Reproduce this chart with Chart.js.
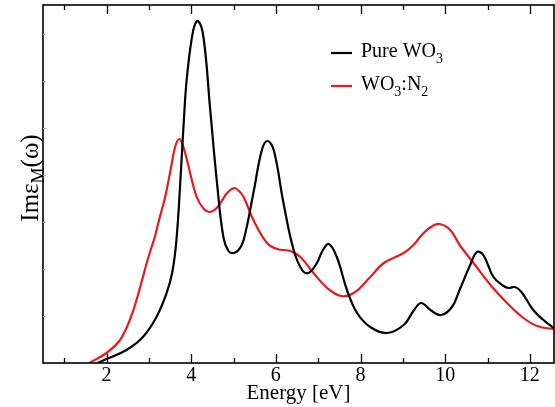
<!DOCTYPE html>
<html>
<head>
<meta charset="utf-8">
<script src="https://cdn.jsdelivr.net/npm/chart.js@4/dist/chart.umd.min.js"></script>
<style>
  html, body { margin: 0; padding: 0; background: #fff; }
  #wrap { width: 555px; height: 407px; position: relative; }
</style>
</head>
<body>
<div id="wrap"><canvas id="c" width="555" height="407"></canvas></div>
<script>
// ---- Data ----
const energyPure = [1.79, 2.0, 2.47, 2.86, 3.18, 3.42, 3.55, 3.65, 3.75, 3.83, 3.90, 4.05, 4.16, 4.29, 4.45, 4.61, 4.76, 4.88, 5.0, 5.12, 5.24, 5.47, 5.67, 5.80, 5.95, 6.18, 6.42, 6.62, 6.77, 6.97, 7.10, 7.25, 7.44, 7.68, 7.92, 8.23, 8.63, 9.02, 9.25, 9.43, 9.65, 9.90, 10.16, 10.34, 10.59, 10.75, 10.90, 11.14, 11.38, 11.50, 11.65, 11.80, 12.08, 12.32, 12.56, 12.70];
const imPure = [0, 4, 13, 26, 46, 70, 90, 122, 186, 245, 286, 333, 342, 326, 253, 180, 126, 112, 110, 113, 123, 170, 213, 222, 213, 160, 113, 93, 90, 100, 112, 119, 106, 73, 50, 36, 30, 38, 52, 60, 53, 48, 56, 73, 98, 111, 108, 86, 77, 75, 76, 71, 53, 43, 35, 29];

const energyN2 = [1.59, 2.0, 2.32, 2.55, 2.71, 2.86, 2.95, 3.02, 3.14, 3.26, 3.38, 3.50, 3.62, 3.72, 3.80, 3.90, 4.13, 4.30, 4.43, 4.55, 4.69, 4.85, 5.02, 5.13, 5.24, 5.47, 5.79, 6.03, 6.34, 6.58, 6.89, 7.21, 7.54, 7.84, 8.23, 8.55, 9.02, 9.25, 9.49, 9.70, 9.87, 10.12, 10.34, 10.67, 11.07, 11.46, 11.85, 12.17, 12.56, 12.70];
const imN2 = [0, 10, 23, 43, 63, 86, 100, 110, 126, 146, 165, 190, 216, 224, 218, 203, 166, 154, 151, 153, 160, 170, 175, 172, 166, 143, 120, 114, 112, 106, 90, 75, 67, 70, 86, 100, 110, 118, 130, 137, 139, 133, 118, 100, 78, 60, 45, 37, 34, 34];

const xTickLabels = [2, 4, 6, 8, 10, 12];
const xMinorTicks = [1, 3, 5, 7, 9, 11];
const yTicks = [47, 94, 141, 188, 235, 282, 329];

const seriesNames = ['Pure WO', 'WO'];
const colPure = '#000000';
const colN2 = '#e8191f';
const SERIF = '"Liberation Serif", "DejaVu Serif", serif';

function pts(xs, ys) { return xs.map((x, i) => ({ x: x, y: ys[i] })); }

const framePlugin = {
  id: 'framePlugin',
  afterDatasetsDraw(chart) {
    const { ctx, chartArea: a, scales } = chart;
    const xs = scales.x, ys = scales.y;
    ctx.save();
    // frame
    ctx.strokeStyle = '#000';
    ctx.lineWidth = 1.6;
    ctx.strokeRect(a.left, a.top, a.right - a.left, a.bottom - a.top);
    // x ticks (inward, bottom and top)
    ctx.lineWidth = 1.3;
    const drawX = (v, len) => {
      const px = Math.round(xs.getPixelForValue(v)) + 0.5;
      ctx.beginPath();
      ctx.moveTo(px, a.bottom); ctx.lineTo(px, a.bottom - len);
      ctx.moveTo(px, a.top); ctx.lineTo(px, a.top + len);
      ctx.stroke();
    };
    xTickLabels.forEach(v => drawX(v, 9));
    xMinorTicks.forEach(v => drawX(v, 5));
    // faint y ticks
    ctx.strokeStyle = '#b0b0b0';
    ctx.lineWidth = 1;
    yTicks.forEach(v => {
      const py = Math.round(ys.getPixelForValue(v)) + 0.5;
      ctx.beginPath(); ctx.moveTo(a.left, py); ctx.lineTo(a.left + 3, py); ctx.stroke();
    });
    ctx.restore();

    // y-axis title with subscript
    ctx.save();
    ctx.fillStyle = '#000';
    ctx.textBaseline = 'alphabetic';
    const big = '25px ' + SERIF, small = '18px ' + SERIF;
    const parts = [['Im\u03b5', big, 0], ['M', small, 6], ['(\u03c9)', big, 0]];
    let total = 0;
    parts.forEach(p => { ctx.font = p[1]; total += ctx.measureText(p[0]).width; });
    ctx.translate(38, (a.top + a.bottom) / 2 - 6);
    ctx.rotate(-Math.PI / 2);
    let cx = -total / 2;
    parts.forEach(p => { ctx.font = p[1]; ctx.fillText(p[0], cx, p[2]); cx += ctx.measureText(p[0]).width; });
    ctx.restore();

    // legend with subscripts
    ctx.save();
    ctx.textBaseline = 'alphabetic';
    const lf = '20px ' + SERIF, sf = '14px ' + SERIF;
    const legendRows = [
      { color: colPure, ly: 53, parts: [[seriesNames[0], lf, 0], ['3', sf, 6]] },
      { color: colN2, ly: 86, parts: [[seriesNames[1], lf, 0], ['3', sf, 6], [':N', lf, 0], ['2', sf, 6]] }
    ];
    legendRows.forEach(r => {
      ctx.strokeStyle = r.color; ctx.lineWidth = 2.2;
      ctx.beginPath(); ctx.moveTo(331, r.ly); ctx.lineTo(352, r.ly); ctx.stroke();
      let x = 361;
      ctx.fillStyle = '#000';
      r.parts.forEach(p => { ctx.font = p[1]; ctx.fillText(p[0], x, r.ly + 4 + p[2]); x += ctx.measureText(p[0]).width; });
    });
    ctx.restore();
  }
};

new Chart(document.getElementById('c'), {
  type: 'line',
  data: {
    datasets: [
      { label: 'Pure WO3', data: pts(energyPure, imPure), borderColor: colPure, borderWidth: 2.2, pointRadius: 0, tension: 0.4, fill: false },
      { label: 'WO3:N2', data: pts(energyN2, imN2), borderColor: colN2, borderWidth: 2.2, pointRadius: 0, tension: 0.4, fill: false }
    ]
  },
  options: {
    responsive: false,
    animation: false,
    devicePixelRatio: 1,
    layout: { padding: { left: 43, right: 1, top: 5, bottom: 0 } },
    plugins: { legend: { display: false }, tooltip: { enabled: false } },
    scales: {
      x: {
        type: 'linear', min: 0.5, max: 12.57,
        grid: { display: false, drawTicks: false },
        border: { display: false },
        afterBuildTicks: s => { s.ticks = xTickLabels.map(v => ({ value: v })); },
        afterFit: s => { s.height = 44; },
        ticks: { color: '#000', font: { family: SERIF, size: 20 }, padding: 1, maxRotation: 0, autoSkip: false },
        title: { display: true, text: 'Energy [eV]', color: '#000', font: { family: SERIF, size: 21 }, padding: { top: 0, bottom: 1 } }
      },
      y: {
        type: 'linear', min: 0, max: 358, display: false
      }
    }
  },
  plugins: [framePlugin]
});
</script>
</body>
</html>
